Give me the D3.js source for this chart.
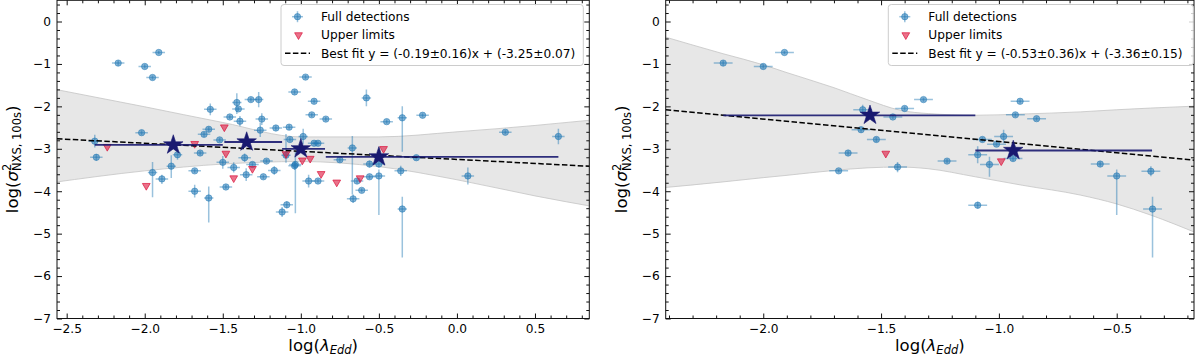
<!DOCTYPE html>
<html><head><meta charset="utf-8">
<script src="https://cdn.jsdelivr.net/npm/d3@7"></script>
<style>
body{margin:0;background:#fff}
svg{display:block}
text{font-family:"DejaVu Sans",sans-serif}
</style>
</head><body>
<svg id="c" width="1200" height="356"></svg>
<script>
// ---------------- DATA ----------------
// detections: [x, y, xErr, yErrLow, yErrHigh]
const leftDetections = [
[-2.32,-2.82,0.04,0.15,0.15],[-2.31,-3.20,0.04,0.08,0.08],[-2.17,-0.98,0.04,0.06,0.06],
[-2.00,-1.06,0.04,0.05,0.05],[-1.91,-0.73,0.04,0.04,0.04],[-1.95,-1.32,0.04,0.05,0.05],
[-2.02,-2.62,0.04,0.06,0.06],[-1.95,-3.56,0.03,0.58,0.25],[-1.89,-3.71,0.04,0.12,0.10],
[-1.83,-3.41,0.03,0.28,0.26],[-1.79,-3.14,0.03,0.12,0.12],[-1.68,-3.52,0.04,0.05,0.05],
[-1.68,-4.00,0.04,0.15,0.15],[-1.59,-4.16,0.03,0.58,0.27],[-1.62,-2.66,0.04,0.06,0.06],
[-1.59,-2.54,0.04,0.06,0.06],[-1.52,-2.79,0.04,0.05,0.05],[-1.645,-3.10,0.04,0.05,0.05],
[-1.50,-3.32,0.04,0.15,0.15],[-1.48,-3.90,0.04,0.05,0.05],[-1.58,-2.07,0.04,0.14,0.14],
[-1.455,-2.25,0.04,0.05,0.05],[-1.41,-1.91,0.03,0.27,0.22],[-1.40,-2.06,0.04,0.05,0.05],
[-1.39,-2.35,0.04,0.12,0.12],[-1.32,-1.84,0.04,0.05,0.05],[-1.27,-1.84,0.03,0.18,0.18],
[-1.25,-2.30,0.04,0.14,0.14],[-1.26,-2.56,0.04,0.16,0.18],[-1.16,-2.51,0.04,0.06,0.06],
[-1.075,-2.49,0.04,0.06,0.06],[-1.04,-1.66,0.04,0.06,0.06],[-0.97,-1.31,0.04,0.05,0.05],
[-0.915,-1.88,0.04,0.05,0.05],[-0.93,-2.20,0.04,0.05,0.05],[-0.84,-2.30,0.04,0.05,0.05],
[-0.58,-1.80,0.03,0.20,0.20],[-0.45,-2.36,0.04,0.05,0.05],[-0.35,-2.27,0.03,0.80,0.27],
[-0.22,-2.21,0.04,0.05,0.05],[-1.07,-2.78,0.04,0.05,0.05],[-0.985,-2.71,0.03,0.18,0.18],
[-0.915,-2.87,0.04,0.05,0.05],[-0.89,-2.87,0.04,0.05,0.05],[-0.67,-2.98,0.03,1.10,0.28],
[-0.75,-3.26,0.04,0.05,0.05],[-0.56,-3.36,0.04,0.08,0.08],[-0.50,-3.36,0.04,0.08,0.08],
[-0.26,-3.21,0.04,0.05,0.05],[-0.36,-3.52,0.04,0.12,0.12],[-0.35,-4.42,0.03,1.14,0.29],
[0.07,-3.64,0.04,0.20,0.20],[0.31,-2.61,0.04,0.05,0.05],[0.65,-2.71,0.04,0.18,0.18],
[-0.95,-3.76,0.04,0.15,0.15],[-0.89,-3.76,0.04,0.05,0.05],[-0.64,-3.76,0.04,0.06,0.06],
[-0.665,-4.18,0.04,0.10,0.10],[-0.61,-3.98,0.04,0.05,0.05],[-0.56,-3.66,0.04,0.05,0.05],
[-0.50,-3.64,0.04,0.92,0.15],[-1.09,-4.32,0.04,0.08,0.08],[-1.12,-4.49,0.04,0.12,0.12],
[-1.095,-3.15,0.03,0.18,0.50],[-1.035,-3.37,0.04,1.15,0.30],[-1.04,-3.40,0.04,0.10,0.10],
[-1.43,-3.44,0.04,0.12,0.12],[-1.36,-3.21,0.04,0.10,0.10],[-1.31,-3.37,0.04,0.05,0.05],
[-1.22,-3.29,0.04,0.05,0.05],[-1.17,-3.51,0.04,0.10,0.10],[-1.35,-3.61,0.04,0.15,0.15],
[-1.24,-3.66,0.04,0.05,0.05]
];
const leftUpperLimits = [
[-2.24,-2.95],[-1.99,-3.87],[-1.68,-2.88],[-1.49,-2.49],[-1.48,-3.11],[-1.43,-3.69],
[-1.31,-3.47],[-1.095,-3.12],[-0.99,-3.27],[-0.94,-3.23],[-0.87,-3.59],[-0.77,-3.79],
[-0.62,-3.69],[-0.47,-3.00]
];
// binned means: [x, y, xLow, xHigh]
const leftBins = [[-1.817,-2.91,-2.32,-1.50],[-1.347,-2.84,-1.49,-1.12],[-1.00,-3.00,-1.12,-0.845],[-0.50,-3.19,-0.84,0.65]];
const leftBandX    = [-2.60,-2.0,-1.5,-1.0,-0.5,0.0,0.5,0.90];
const leftBandLow  = [-3.80,-3.52,-3.36,-3.30,-3.42,-3.73,-4.11,-4.38];
const leftBandHigh = [-1.58,-2.01,-2.38,-2.72,-2.72,-2.60,-2.45,-2.31];
const leftSlope = -0.19, leftIntercept = -3.25;
const leftFitLabel = "Best fit y = (-0.19\u00b10.16)x + (-3.25\u00b10.07)";

const rightDetections = [
[-2.17,-0.98,0.04,0.06,0.06],[-2.00,-1.06,0.04,0.05,0.05],[-1.91,-0.73,0.04,0.04,0.04],
[-1.585,-2.55,0.04,0.06,0.06],[-1.578,-2.08,0.04,0.12,0.12],[-1.52,-2.78,0.04,0.06,0.06],
[-1.64,-3.10,0.04,0.06,0.06],[-1.68,-3.52,0.04,0.04,0.04],[-1.45,-2.25,0.04,0.05,0.05],
[-1.43,-3.43,0.04,0.12,0.12],[-1.32,-1.84,0.04,0.05,0.05],[-1.40,-2.05,0.04,0.05,0.05],
[-0.91,-1.88,0.04,0.05,0.05],[-0.93,-2.20,0.04,0.05,0.05],[-0.84,-2.29,0.04,0.05,0.05],
[-1.07,-2.78,0.04,0.06,0.06],[-0.98,-2.71,0.04,0.16,0.16],[-1.01,-2.89,0.04,0.05,0.05],
[-1.09,-3.14,0.04,0.20,0.20],[-1.22,-3.29,0.04,0.05,0.05],[-1.04,-3.37,0.04,0.29,0.18],
[-0.94,-3.23,0.04,0.06,0.06],[-0.57,-3.36,0.04,0.06,0.06],[-0.50,-3.64,0.04,0.92,0.15],
[-0.355,-3.53,0.04,0.12,0.12],[-0.348,-4.42,0.04,1.14,0.29],[-1.09,-4.33,0.04,0.08,0.08]
];
const rightUpperLimits = [[-1.48,-3.11],[-0.99,-3.29]];
const rightBins = [[-1.547,-2.21,-2.17,-1.10],[-0.939,-3.04,-1.10,-0.35]];
const rightBandX    = [-2.45,-2.17,-2.0,-1.908,-1.70,-1.56,-1.42,-1.3,-1.1,-0.9,-0.655,-0.5,-0.357,-0.15];
const rightBandLow  = [-3.93,-3.78,-3.68,-3.63,-3.51,-3.45,-3.43,-3.47,-3.66,-3.86,-4.09,-4.30,-4.56,-5.01];
const rightBandHigh = [-0.31,-0.76,-1.02,-1.19,-1.56,-1.84,-2.09,-2.17,-2.21,-2.18,-2.13,-2.08,-2.04,-1.99];
const rightSlope = -0.53, rightIntercept = -3.36;
const rightFitLabel = "Best fit y = (-0.53\u00b10.36)x + (-3.36\u00b10.15)";

const leftXTicks  = [-2.5,-2.0,-1.5,-1.0,-0.5,0.0,0.5];
const rightXTicks = [-2.0,-1.5,-1.0,-0.5];
const yTicks = [0,-1,-2,-3,-4,-5,-6,-7];
const legendLabels = ["Full detections","Upper limits"];

// ---------------- STYLE / LAYOUT ----------------
const blue = "#1f77b4", red = "crimson", navy = "#191970";
const yTop = 0.3, yBot = 318.5;
const svg = d3.select("#c");
const defs = svg.append("defs");

const panels = [
  {id:"L", x0:57, x1:589.3, xDomain:[-2.562,0.848], xTicks:leftXTicks, det:leftDetections, ul:leftUpperLimits,
   bins:leftBins, bx:leftBandX, blo:leftBandLow, bhi:leftBandHigh, slope:leftSlope, icpt:leftIntercept,
   fitLabel:leftFitLabel, legend:[281,4.5,583.3,65.5], ylabX:17.5},
  {id:"R", x0:665.7, x1:1194, xDomain:[-2.414,-0.172], xTicks:rightXTicks, det:rightDetections, ul:rightUpperLimits,
   bins:rightBins, bx:rightBandX, blo:rightBandLow, bhi:rightBandHigh, slope:rightSlope, icpt:rightIntercept,
   fitLabel:rightFitLabel, legend:[888.3,4.5,1193.3,65.5], ylabX:627}
];

function drawPanel(p){
  const x = d3.scaleLinear().domain(p.xDomain).range([p.x0, p.x1]);
  const y = d3.scaleLinear().domain([-7,0.5]).range([yBot, yTop]);
  const clipId = "clip"+p.id;
  defs.append("clipPath").attr("id",clipId).append("rect")
    .attr("x",p.x0).attr("y",yTop).attr("width",p.x1-p.x0).attr("height",yBot-yTop);
  const g = svg.append("g");
  const plot = g.append("g").attr("clip-path",`url(#${clipId})`);

  // confidence band
  const band = p.bx.map((v,i)=>({x:v, lo:p.blo[i], hi:p.bhi[i]}));
  plot.append("path").datum(band)
    .attr("d", d3.area().x(d=>x(d.x)).y0(d=>y(d.lo)).y1(d=>y(d.hi)).curve(d3.curveMonotoneX))
    .attr("fill","#d3d3d3").attr("fill-opacity",0.55).attr("stroke","#c4c4c4").attr("stroke-width",0.8);

  // detections with error bars
  const det = p.det.map(d=>({x:d[0],y:d[1],xe:d[2],lo:d[3],hi:d[4]}));
  const eb = plot.append("g").attr("stroke",blue).attr("stroke-opacity",0.45).attr("stroke-width",1.5);
  eb.selectAll("line.h").data(det).join("line").attr("class","h")
    .attr("x1",d=>x(d.x-d.xe)).attr("x2",d=>x(d.x+d.xe)).attr("y1",d=>y(d.y)).attr("y2",d=>y(d.y));
  eb.selectAll("line.v").data(det).join("line").attr("class","v")
    .attr("x1",d=>x(d.x)).attr("x2",d=>x(d.x)).attr("y1",d=>y(d.y-d.lo)).attr("y2",d=>y(d.y+d.hi));
  plot.append("g").selectAll("circle").data(det).join("circle")
    .attr("cx",d=>x(d.x)).attr("cy",d=>y(d.y)).attr("r",3.2)
    .attr("fill",blue).attr("fill-opacity",0.55).attr("stroke",blue).attr("stroke-opacity",0.5).attr("stroke-width",1);

  // upper limits
  const tri = d3.symbol(d3.symbolTriangle, 26);
  plot.append("g").selectAll("path").data(p.ul).join("path")
    .attr("d",tri).attr("transform",d=>`translate(${x(d[0])},${y(d[1])}) rotate(180)`)
    .attr("fill",red).attr("fill-opacity",0.6).attr("stroke",red).attr("stroke-opacity",0.7).attr("stroke-width",1);

  // best fit
  plot.append("path").datum(p.xDomain)
    .attr("d", d3.line().x(v=>x(v)).y(v=>y(p.slope*v+p.icpt)))
    .attr("stroke","#000").attr("stroke-width",1.5).attr("stroke-dasharray","5.5,2.4").attr("fill","none");

  // bins
  plot.append("g").selectAll("line").data(p.bins).join("line")
    .attr("x1",d=>x(d[2])).attr("x2",d=>x(d[3])).attr("y1",d=>y(d[1])).attr("y2",d=>y(d[1]))
    .attr("stroke",navy).attr("stroke-width",1.8).attr("stroke-opacity",0.9);
  const star = d3.symbol(d3.symbolStar, 118);
  plot.append("g").selectAll("path").data(p.bins).join("path")
    .attr("d",star).attr("transform",d=>`translate(${x(d[0])},${y(d[1])})`).attr("fill",navy)
    .attr("stroke",navy).attr("stroke-width",0.6);

  // axes
  const fmtX = d3.format(".1f"), fmtY = d3.format("d");
  const xMinor = d3.range(Math.ceil(p.xDomain[0]*10), Math.floor(p.xDomain[1]*10)+1).filter(i=>i%5!==0).map(i=>i/10);
  const yMinor = d3.range(-35, 3).filter(i=>i%5!==0).map(i=>i/5);
  const axes = [
    [d3.axisBottom(x).tickValues(p.xTicks).tickFormat(fmtX).tickSize(-5).tickPadding(6), `translate(0,${yBot})`],
    [d3.axisBottom(x).tickValues(xMinor).tickFormat("").tickSize(-3), `translate(0,${yBot})`],
    [d3.axisTop(x).tickValues(p.xTicks).tickFormat("").tickSize(-5), `translate(0,${yTop})`],
    [d3.axisTop(x).tickValues(xMinor).tickFormat("").tickSize(-3), `translate(0,${yTop})`],
    [d3.axisLeft(y).tickValues(yTicks).tickFormat(fmtY).tickSize(-5).tickPadding(6), `translate(${p.x0},0)`],
    [d3.axisLeft(y).tickValues(yMinor).tickFormat("").tickSize(-3), `translate(${p.x0},0)`],
    [d3.axisRight(y).tickValues(yTicks).tickFormat("").tickSize(-5), `translate(${p.x1},0)`],
    [d3.axisRight(y).tickValues(yMinor).tickFormat("").tickSize(-3), `translate(${p.x1},0)`]
  ];
  axes.forEach(([ax,tr])=>{
    const a = g.append("g").attr("transform",tr).call(ax.tickSizeOuter(0));
    a.select(".domain").remove();
    a.selectAll("line").attr("stroke","#111").attr("stroke-width",1);
    a.selectAll("text").attr("font-size","12.2px").attr("fill","#000").attr("font-family","DejaVu Sans");
  });
  g.append("rect").attr("x",p.x0).attr("y",yTop).attr("width",p.x1-p.x0).attr("height",yBot-yTop)
    .attr("fill","none").attr("stroke","#111").attr("stroke-width",1);

  // x label
  const xl = g.append("text").attr("x",(p.x0+p.x1)/2).attr("y",350.5).attr("text-anchor","middle")
    .attr("font-size","16.5px").attr("fill","#000");
  xl.append("tspan").text("log(");
  xl.append("tspan").attr("font-style","italic").text("\u03bb");
  xl.append("tspan").attr("font-style","italic").attr("font-size","11.5px").attr("dy","3.5").text("Edd");
  xl.append("tspan").attr("dy","-3.5").text(")");

  // y label
  const yl = g.append("text").attr("transform",`translate(${p.ylabX},${(yTop+yBot)/2}) rotate(-90)`)
    .attr("text-anchor","middle").attr("font-size","16.5px").attr("fill","#000");
  yl.append("tspan").text("log(");
  yl.append("tspan").attr("font-style","italic").text("\u03c3");
  yl.append("tspan").attr("font-size","11.5px").attr("dy","-6.5").text("2");
  yl.append("tspan").attr("font-size","11.5px").attr("dx","-7.3").attr("dy","10").text("NXS, 100s");
  yl.append("tspan").attr("dy","-3.5").text(")");

  // legend
  const [lx0,ly0,lx1,ly1] = p.legend;
  const lg = g.append("g");
  lg.append("rect").attr("x",lx0).attr("y",ly0).attr("width",lx1-lx0).attr("height",ly1-ly0).attr("rx",3)
    .attr("fill","#fff").attr("fill-opacity",0.8).attr("stroke","#cccccc").attr("stroke-width",1);
  const mx = lx0+16.5, tx = lx0+40;
  const rows = [ly0+12.2, ly0+30.5, ly0+48.8];
  const le = lg.append("g").attr("stroke",blue).attr("stroke-opacity",0.45).attr("stroke-width",1.5);
  le.append("line").attr("x1",mx-5.5).attr("x2",mx+5.5).attr("y1",rows[0]).attr("y2",rows[0]);
  le.append("line").attr("x1",mx).attr("x2",mx).attr("y1",rows[0]-5.5).attr("y2",rows[0]+5.5);
  lg.append("circle").attr("cx",mx).attr("cy",rows[0]).attr("r",3.2).attr("fill",blue).attr("fill-opacity",0.55)
    .attr("stroke",blue).attr("stroke-opacity",0.5);
  lg.append("path").attr("d",tri).attr("transform",`translate(${mx+1},${rows[1]}) rotate(180)`)
    .attr("fill",red).attr("fill-opacity",0.6).attr("stroke",red).attr("stroke-opacity",0.7);
  lg.append("line").attr("x1",lx0+4).attr("x2",lx0+29).attr("y1",rows[2]).attr("y2",rows[2])
    .attr("stroke","#000").attr("stroke-width",1.5).attr("stroke-dasharray","5.5,2.4");
  [legendLabels[0], legendLabels[1], p.fitLabel].forEach((t,i)=>{
    lg.append("text").attr("x",tx).attr("y",rows[i]).attr("dy","0.36em").attr("font-size","12.2px").attr("fill","#000").text(t);
  });
}
panels.forEach(drawPanel);
</script>
</body></html>
